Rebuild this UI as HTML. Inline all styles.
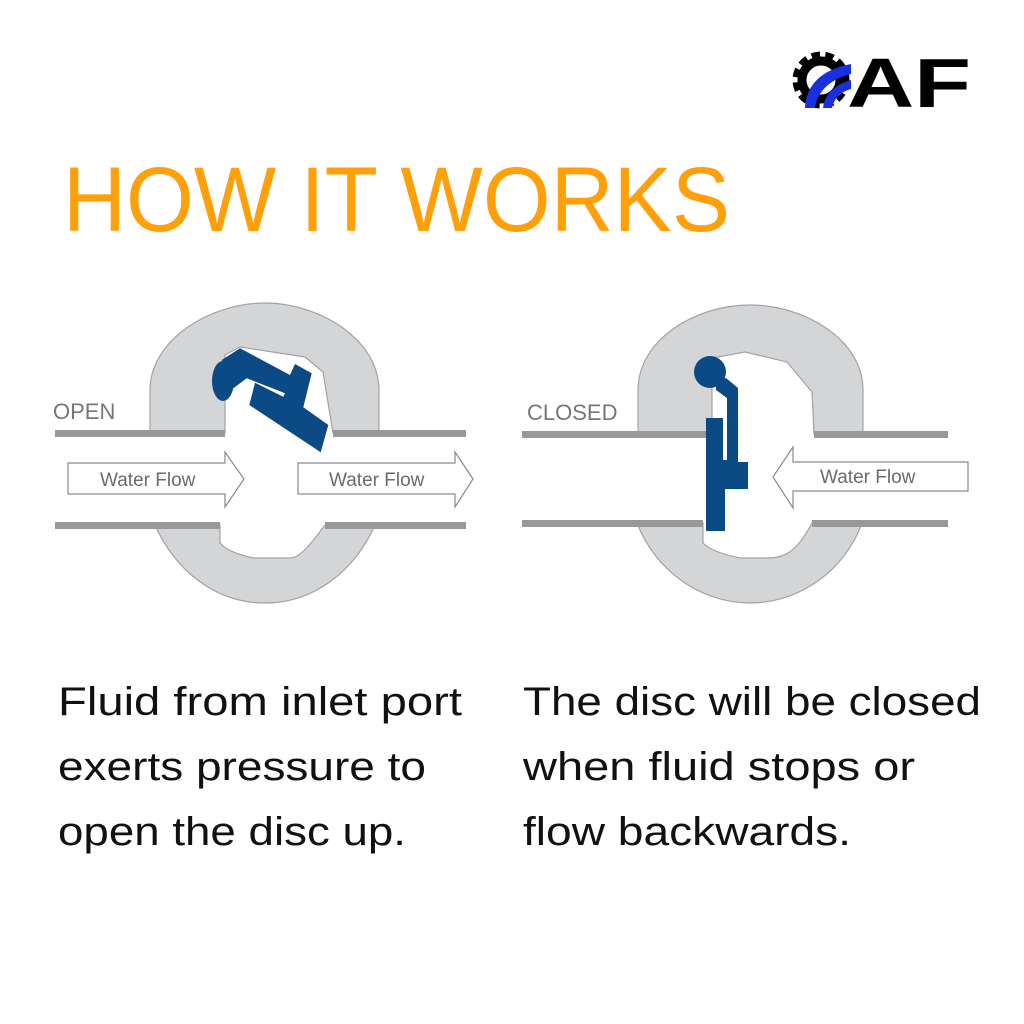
<!DOCTYPE html>
<html><head><meta charset="utf-8"><style>html,body{margin:0;padding:0;background:#fff}svg{display:block}</style></head>
<body>
<svg width="1024" height="1024" viewBox="0 0 1024 1024" xmlns="http://www.w3.org/2000/svg">
<rect width="1024" height="1024" fill="#fff"/>
<!-- logo -->
<g>
  <circle cx="821" cy="80" r="24" fill="none" stroke="#000" stroke-width="9" stroke-dasharray="8 5"/>
  <circle cx="821" cy="80" r="19" fill="none" stroke="#000" stroke-width="9"/>
  <path d="M805,108 C806,86 820,70 851,64 L851,74 C830,79 817,92 815,108 Z" fill="#1a2fe0"/>
  <path d="M823,108 C825,94 834,85 851,80 L851,89 C840,92 834,99 832,108 Z" fill="#1a2fe0"/>
  <text x="847" y="107" font-family="Liberation Sans, sans-serif" font-weight="bold" font-size="70" fill="#000" textLength="124" lengthAdjust="spacingAndGlyphs">AF</text>
</g>
<text x="63" y="231" font-family="Liberation Sans, sans-serif" font-size="92" fill="#ff9f0a" textLength="667" lengthAdjust="spacingAndGlyphs">HOW IT WORKS</text>

<!-- OPEN diagram -->
<g stroke="#a3a3a5" stroke-width="1.2" fill="#d4d5d7">
  <path d="M150,433 L150,390 C150,340 210,303 265,303 C320,303 379,340 379,390 L379,433 L333,433 L323,372 L305,357 L240,347 L225,355 L225,433 Z"/>
  <path d="M155,525 C175,570 215,603 265,603 C315,603 355,570 375,525 L325,525 C310,545 300,558 290,558 L253,558 C240,555 225,550 220,543 L220,525 Z"/>
</g>
<rect x="55" y="430" width="170" height="7" fill="#98989a"/>
<rect x="333" y="430" width="133" height="7" fill="#98989a"/>
<rect x="55" y="522" width="165" height="7" fill="#98989a"/>
<rect x="325" y="522" width="141" height="7" fill="#98989a"/>
<ellipse cx="223" cy="381" rx="11" ry="20" fill="#0b4a85"/>
<polygon points="221.7,360 240,348.3 290,375 295,364 311.7,373.3 303.3,407.3 328.3,425 320.7,452.3 249.3,405 255,382.7 283.3,396.7 285,393.3 246.7,378.3 233.3,388.3" fill="#0b4a85"/>
<g fill="#fff" stroke="#8a8a8c" stroke-width="1.2">
  <polygon points="68,463 225,463 225,452 244,479 225,507 225,494 68,494"/>
  <polygon points="298,463 455,463 455,452 473,479 455,507 455,494 298,494"/>
  <polygon points="968,462 793,462 793,447 773,477 793,508 793,491 968,491"/>
</g>
<g font-family="Liberation Sans, sans-serif" font-size="19" fill="#6b6b6d">
  <text x="100" y="486">Water Flow</text>
  <text x="329" y="486">Water Flow</text>
  <text x="820" y="483">Water Flow</text>
</g>
<g font-family="Liberation Sans, sans-serif" font-size="22" fill="#777">
  <text x="53" y="419">OPEN</text>
  <text x="527" y="420">CLOSED</text>
</g>

<!-- CLOSED diagram -->
<g stroke="#a3a3a5" stroke-width="1.2" fill="#d4d5d7">
  <path d="M638,434 L638,390 C638,340 695,305 750,305 C805,305 863,340 863,390 L863,434 L814,434 L812,392 L787,362 L745,352 L712,358 L712,434 Z"/>
  <path d="M637,523 C655,570 700,603 750,603 C800,603 845,570 862,523 L812,523 C800,545 790,558 768,558 L740,558 C725,555 710,550 703,543 L703,523 Z"/>
</g>
<rect x="522" y="431" width="190" height="7" fill="#98989a"/>
<rect x="814" y="431" width="134" height="7" fill="#98989a"/>
<rect x="522" y="520" width="181" height="7" fill="#98989a"/>
<rect x="812" y="520" width="136" height="7" fill="#98989a"/>
<circle cx="710" cy="372" r="16" fill="#0b4a85"/>
<polygon points="716,382 726,378 738,388 738,462 748,462 748,489 725,489 725,531 706,531 706,418 723,418 723,460 727,460 727,398 716,390" fill="#0b4a85"/>

<g font-family="Liberation Sans, 'DejaVu Sans', sans-serif" font-size="40" fill="#111">
  <text x="58" y="715" textLength="404" lengthAdjust="spacingAndGlyphs">Fluid from inlet port</text>
  <text x="58" y="780" textLength="368" lengthAdjust="spacingAndGlyphs">exerts pressure to</text>
  <text x="58" y="845" textLength="348" lengthAdjust="spacingAndGlyphs">open the disc up.</text>
  <text x="523" y="715" textLength="458" lengthAdjust="spacingAndGlyphs">The disc will be closed</text>
  <text x="523" y="780" textLength="392" lengthAdjust="spacingAndGlyphs">when fluid stops or</text>
  <text x="523" y="845" textLength="328" lengthAdjust="spacingAndGlyphs">flow backwards.</text>
</g>
</svg>
</body></html>
